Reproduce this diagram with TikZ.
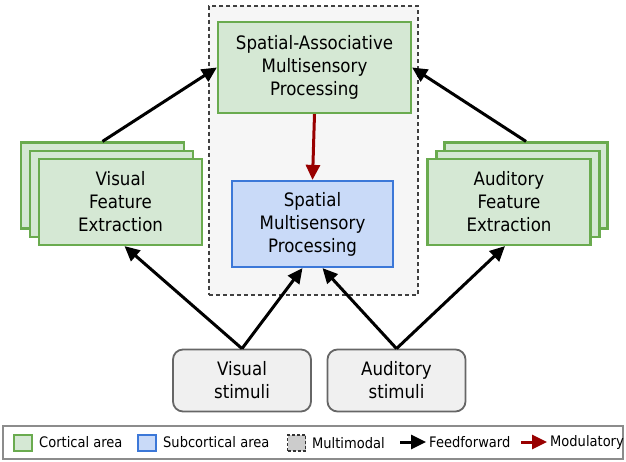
\documentclass[tikz,border=0pt]{standalone}
\usepackage{fontspec}
\setmainfont{DejaVu Sans}[FakeStretch=0.9]
\usetikzlibrary{arrows.meta}
\definecolor{gfill}{HTML}{D5E8D4}
\definecolor{gdraw}{HTML}{6AAB4F}
\definecolor{bfill}{HTML}{C9DAF8}
\definecolor{bdraw}{HTML}{3C78D8}
\definecolor{sfill}{HTML}{F0F0F0}
\definecolor{sdraw}{HTML}{666666}
\definecolor{mfill}{HTML}{F6F6F6}
\definecolor{modred}{HTML}{990000}
\tikzset{
  boxtext/.style={align=center, font=\fontsize{18.5}{23}\selectfont, inner sep=0pt},
  cort/.style={boxtext, draw=gdraw, fill=gfill, line width=2.2pt, minimum width=163pt, minimum height=86pt},
  subc/.style={boxtext, draw=bdraw, fill=bfill, line width=2.2pt, minimum width=161pt, minimum height=86pt},
  stim/.style={boxtext, draw=sdraw, fill=sfill, line width=1.8pt, rounded corners=10pt, minimum width=138pt, minimum height=62pt},
  tip/.style={-{Triangle[length=15pt,width=14pt]}},
  ff/.style={line width=3pt, tip},
  mod/.style={line width=3pt, draw=modred, tip},
  leg/.style={font=\fontsize{14.5}{17}\selectfont, anchor=west, inner sep=0pt},
  legsq/.style={line width=2pt, minimum width=18pt, minimum height=16pt, inner sep=0pt},
}
\begin{document}
\begin{tikzpicture}[x=1pt,y=-1pt]
\useasboundingbox (0,0) rectangle (626,462);
% multimodal region
\node[draw=black!75, dash pattern=on 4pt off 3pt, fill=mfill, line width=1.1pt, minimum width=209pt, minimum height=289pt, inner sep=0pt] (mm) at (313.5,150.5) {};
% spatial associative
\node[cort, minimum width=193pt, minimum height=91pt] (sa) at (314.5,67.5) {Spatial-Associative\\Multisensory\\Processing};
% spatial multisensory
\node[subc] (sm) at (312.5,224) {Spatial\\Multisensory\\Processing};
% visual stack
\node[cort] (vb) at (102.5,185.5) {};
\node[cort] (vm) at (111.5,194) {};
\node[cort] (vf) at (120.5,202) {Visual\\Feature\\Extraction};
% auditory stack
\node[cort] (ab) at (526,185.5) {};
\node[cort] (am) at (518,194) {};
\node[cort] (af) at (509,202) {Auditory\\Feature\\Extraction};
% stimuli
\node[stim] (vs) at (242,380.5) {Visual\\stimuli};
\node[stim] (as) at (396.5,380.5) {Auditory\\stimuli};
% connectors
\draw[ff] (vb.north) -- (sa.west);
\draw[ff] (ab.north) -- (sa.east);
\draw[mod] (sa.south) -- (sm.north);
\draw[ff] (vs.north) -- ([xshift=4pt]vf.south);
\draw[ff] (vs.north) -- ([xshift=-10pt]sm.south);
\draw[ff] (as.north) -- ([xshift=10pt]sm.south);
\draw[ff] (as.north) -- ([xshift=-4pt]af.south);
% legend
\node[draw=black!45, line width=1.2pt, minimum width=620pt, minimum height=33pt, inner sep=0pt] (lg) at (313,442.5) {};
\node[legsq, draw=gdraw, fill=gfill] (l1) at (22.5,443) {};
\node[leg] (t1) at (39,442) {Cortical area};
\node[legsq, draw=bdraw, fill=bfill] (l2) at (146.5,443) {};
\node[leg] (t2) at (163,442) {Subcortical area};
\node[legsq, draw=black!80, fill=black!20, dash pattern=on 3pt off 2pt, line width=1.3pt] (l3) at (296.5,443) {};
\node[leg] (t3) at (312,443) {Multimodal};
\coordinate (a1s) at (400,442);
\coordinate (a1e) at (426,442);
\draw[line width=3pt, tip] (a1s) -- (a1e);
\node[leg] (t4) at (429,442) {Feedforward};
\coordinate (a2s) at (521,442);
\coordinate (a2e) at (547,442);
\draw[line width=3pt, modred, tip] (a2s) -- (a2e);
\node[leg] (t5) at (550,442) {Modulatory};
\end{tikzpicture}
\end{document}
